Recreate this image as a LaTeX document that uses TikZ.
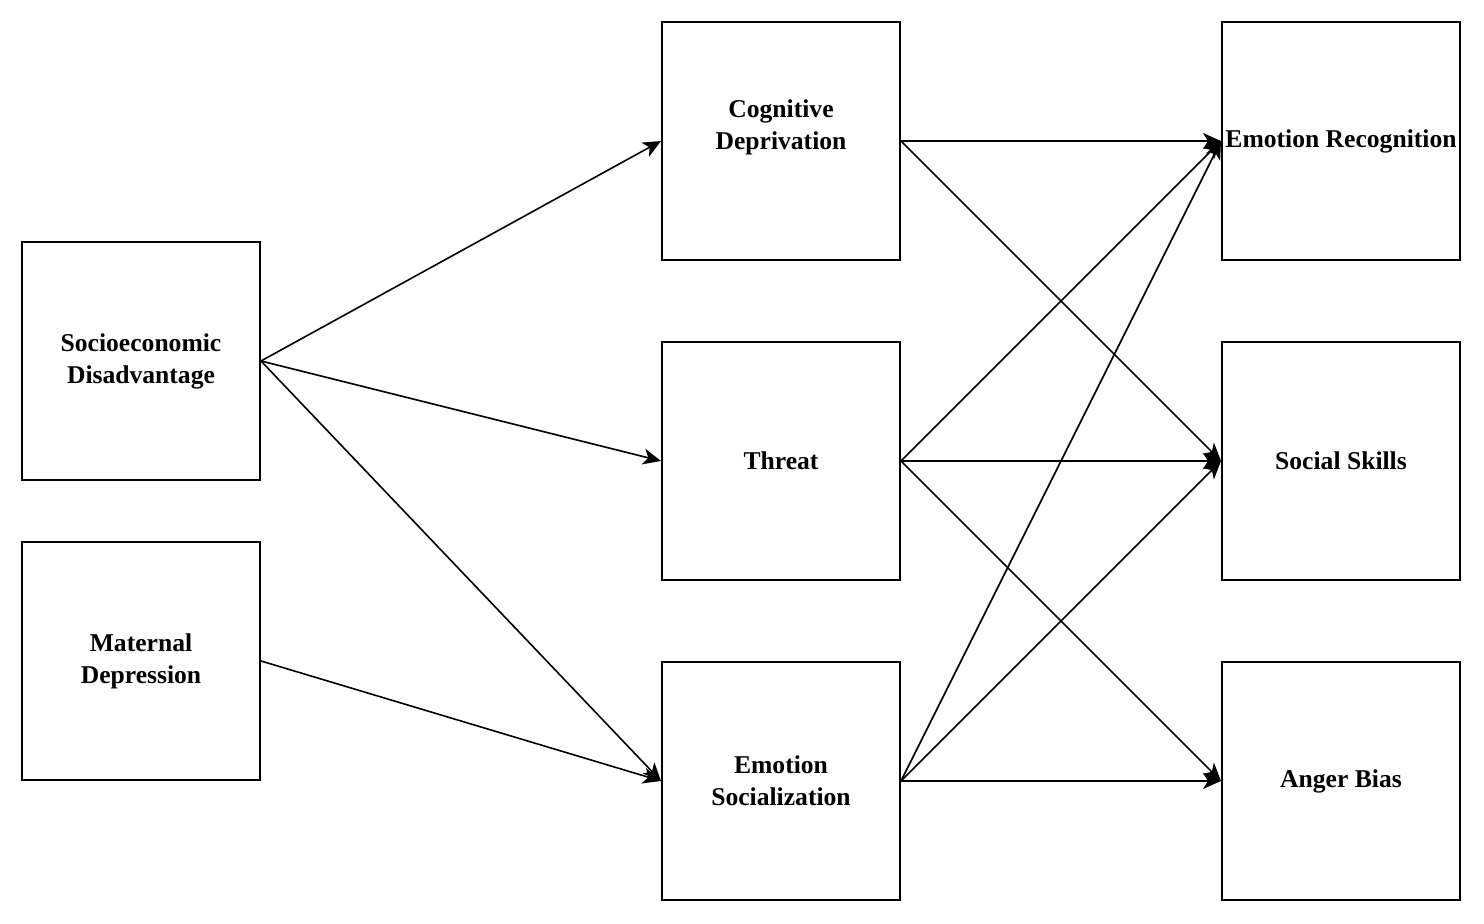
\documentclass[tikz,border=0pt]{standalone}
\usepackage{fontspec}
\setmainfont{Liberation Serif}
\usetikzlibrary{arrows.meta}
\tikzset{
    block/.style = {draw, rectangle, line width=1pt,
        minimum width=119pt, minimum height=119pt, inner sep=0pt,
        align=center, font=\bfseries\fontsize{12.8}{16}\selectfont},
    path/.style = {draw, line width=0.8pt, -{Stealth[length=9pt,width=8pt,inset=2.5pt]}}
}
\begin{document}
\begin{tikzpicture}[auto, node distance=160pt]
        \useasboundingbox (-390.5pt,70.5pt) rectangle (351.5pt,-391.5pt);
        % mediators
        \node [block, name=cog] {Cognitive\\Deprivation\\\mbox{}};
        \node [block, below of=cog, name=threat] {Threat};
        \node [block, below of=threat, name=emosoc] {Emotion\\Socialization};
        % outcomes
        \node [block, right of=cog, node distance=280pt, name=recog] {Emotion Recognition};
        \node [block, below of=recog, name=skills] {Social Skills};
        \node [block, below of=skills, name=anger] {Anger Bias};
        % predictors
        \node [block, name=socio] at (-320pt,-110pt) {Socioeconomic\\Disadvantage};
        \node [block, below of=socio, node distance=150pt, name=matdep] {Maternal\\Depression};
        \foreach \to in {cog,threat,emosoc}{
            \draw [path] (socio.east) -- (\to.west);
        }
        \draw [path] (matdep.east) -- (emosoc.west);
        \draw [path] (cog.east) -- (recog.west);
        \draw [path] (cog.east) -- (skills.west);
        \foreach \from in {threat,emosoc}{
            \foreach \to in {recog,skills,anger}{
                \draw [path] (\from.east) -- (\to.west);
            }
        }
    \end{tikzpicture}
\end{document}
